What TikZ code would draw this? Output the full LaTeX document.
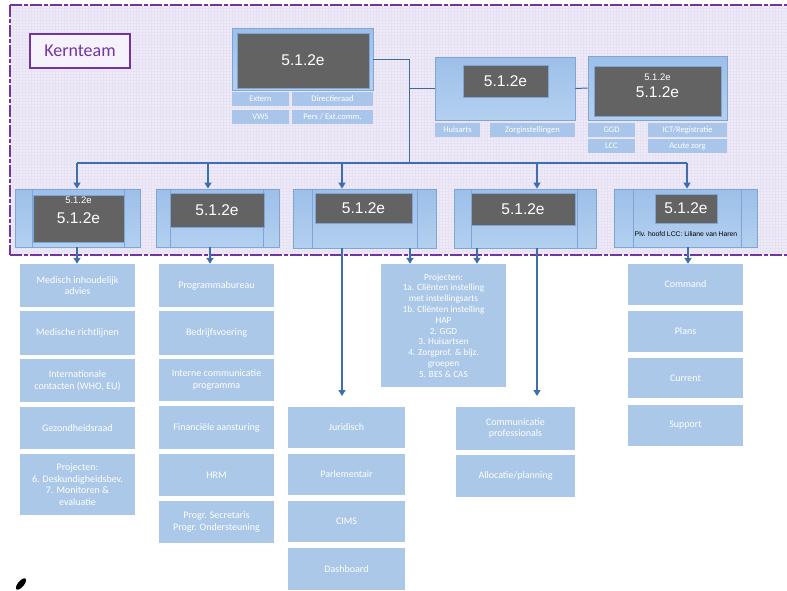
\documentclass[tikz,border=0pt]{standalone}
\usepackage{fontspec}
\setmainfont{Carlito}
\newfontfamily\arialf{Liberation Sans}
\usetikzlibrary{arrows.meta}
\definecolor{lav}{HTML}{EEEAF8}
\definecolor{lavgrid}{HTML}{E6E1F3}
\definecolor{purp}{HTML}{7334A3}
\definecolor{lb}{HTML}{ABC8E8}
\definecolor{lbtop}{HTML}{9DBFE8}
\definecolor{lbbot}{HTML}{B3D0F0}
\definecolor{lbedge}{HTML}{7DA5D6}
\definecolor{gr}{HTML}{636363}
\definecolor{conn}{HTML}{3F6EAE}
\definecolor{tconn}{HTML}{3D6A96}
\definecolor{lbl}{HTML}{A9C6EA}
\tikzset{
  listbox/.style={fill=lb, draw=none, text=white, font=\fontsize{10}{11.5}\selectfont, align=center, inner sep=1pt},
  frame/.style={top color=lbtop, bottom color=lbbot, draw=lbedge, line width=0.8pt, inner sep=0pt},
  graybox/.style={fill=gr, draw=lbedge, line width=0.5pt, text=white, inner sep=0pt, font=\arialf\fontsize{15.5}{17}\selectfont},
  lblbox/.style={fill=lbl, draw=none, text=white, inner sep=0pt, font=\fontsize{8.5}{9}\selectfont, minimum height=14pt},
  bar/.style={draw=lbedge, line width=0.8pt},
  arr/.style={draw=conn, line width=1.4pt, -{Triangle[width=7pt,length=6pt]}},
  tline/.style={draw=tconn, line width=1pt},
  kline/.style={purp, line width=1.8pt, dash pattern=on 12pt off 2pt on 4pt off 2pt},
}
\begin{document}
\begin{tikzpicture}[x=1pt,y=-1pt]
\useasboundingbox (0,0) rectangle (787,590);
\fill[white] (0,0) rectangle (787,590);
% frame
\fill[lav] (10,5) rectangle (787,255);
\begin{scope}
\clip (10,5) rectangle (787,255);
\foreach \i in {0,3,...,771} {\draw[lavgrid,line width=0.3pt] (10+\i,5) -- (10+\i,255);}
\foreach \j in {0,3,...,250} {\draw[lavgrid,line width=0.3pt] (10,5+\j) -- (787,5+\j);}
\end{scope}
\draw[kline] (10,5) -- (787,5);
\draw[kline] (10,5) -- (10,255);
\draw[kline] (10,255) -- (787,255);
% Kernteam
\node[draw=purp, line width=1.2pt, fill=white!40!lav, text=purp, font=\fontsize{18}{20}\selectfont, minimum width=100pt, minimum height=34pt, inner sep=0pt] (kern) at (80,51) {Kernteam};
% top box A
\node[frame, minimum width=141pt, minimum height=62pt] (A) at (302.5,59) {};
\node[graybox, minimum width=132pt, minimum height=55pt] (Ag) at (303,60.5) {5.1.2e};
\node[lblbox, minimum width=57pt] (a1) at (260.5,99) {Extern};
\node[lblbox, minimum width=81pt] (a2) at (332.5,99) {Directieraad};
\node[lblbox, minimum width=57pt] (a3) at (260.5,117) {VWS};
\node[lblbox, minimum width=81pt] (a4) at (332.5,117) {Pers / Ext.comm.};
% top box B
\node[frame, minimum width=140pt, minimum height=63pt] (B) at (505,88.5) {};
\node[graybox, minimum width=85pt, minimum height=32pt] (Bg) at (505.5,81) {5.1.2e};
\node[lblbox, minimum width=45pt] (b1) at (457.5,130) {Huisarts};
\node[lblbox, minimum width=85pt] (b2) at (532.5,130) {Zorginstellingen};
% top box C
\node[frame, minimum width=139pt, minimum height=64pt] (C) at (657.5,88) {};
\node[graybox, minimum width=127pt, minimum height=50pt] (Cg) at (657.5,91) {};
\node[text=white, font=\arialf\fontsize{9.5}{10}\selectfont, inner sep=0pt] (Cs) at (657.5,77) {5.1.2e};
\node[text=white, font=\arialf\fontsize{15.5}{17}\selectfont, inner sep=0pt] (Cb) at (657.5,92) {5.1.2e};
\node[lblbox, minimum width=47pt] (c1) at (611.5,130) {GGD};
\node[lblbox, minimum width=79pt] (c2) at (687.5,130) {ICT/Registratie};
\node[lblbox, minimum width=47pt] (c3) at (611.5,146) {LCC};
\node[lblbox, minimum width=79pt] (c4) at (687.5,146) {Acute zorg};
% top connectors
\coordinate (j) at (409,163);
\draw[tline] (A.east) -| (j);
\draw[tline] (B.west) -- (B.west -| j);
\draw[tline] (B.east) -- (C.west);
% row boxes
\node[frame, minimum width=125pt, minimum height=58pt] (R1) at (77.5,218) {};
\draw[bar] (R1.north -| 32,0) -- (R1.south -| 32,0);
\draw[bar] (R1.north -| 124,0) -- (R1.south -| 124,0);
\node[graybox, minimum width=91pt, minimum height=47pt] (R1g) at (78.5,218.5) {};
\node[text=white, font=\arialf\fontsize{9.5}{10}\selectfont, inner sep=0pt] (R1s) at (78.5,200.5) {5.1.2e};
\node[text=white, font=\arialf\fontsize{15.5}{17}\selectfont, inner sep=0pt] (R1b) at (78.5,218) {5.1.2e};

\node[frame, minimum width=123pt, minimum height=58pt] (R2) at (217.5,218) {};
\draw[bar] (R2.north -| 170,0) -- (R2.south -| 170,0);
\draw[bar] (R2.north -| 263,0) -- (R2.south -| 263,0);
\node[graybox, minimum width=94pt, minimum height=34pt] (R2g) at (217,210) {5.1.2e};

\node[frame, minimum width=143pt, minimum height=59pt] (R3) at (364.5,218.5) {};
\draw[bar] (R3.north -| 312,0) -- (R3.south -| 312,0);
\draw[bar] (R3.north -| 417,0) -- (R3.south -| 417,0);
\node[graybox, minimum width=97pt, minimum height=30pt] (R3g) at (363.5,208) {5.1.2e};

\node[frame, minimum width=142pt, minimum height=59pt] (R4) at (525,218.5) {};
\draw[bar] (R4.north -| 471,0) -- (R4.south -| 471,0);
\draw[bar] (R4.north -| 577,0) -- (R4.south -| 577,0);
\node[graybox, minimum width=104pt, minimum height=32pt] (R4g) at (523,209) {5.1.2e};

\node[frame, minimum width=143pt, minimum height=58pt] (R5) at (685.5,218) {};
\draw[bar] (R5.north -| 633,0) -- (R5.south -| 633,0);
\draw[bar] (R5.north -| 741,0) -- (R5.south -| 741,0);
\node[graybox, minimum width=62pt, minimum height=29pt] (R5g) at (686,208.5) {5.1.2e};
\node[text=black, font=\arialf\fontsize{6.8}{8}\selectfont, inner sep=0pt] (R5t) at (686,234) {Plv. hoofd LCC: Liliane van Haren};
% bus
\draw[tline, draw=conn, line width=1.2pt] (j) -- (77,163);
\draw[tline, draw=conn, line width=1.2pt] (j) -- (687,163);
\draw[arr] (77,163) -- (77,0 |- R1.north);
\draw[arr] (208,163) -- (208,0 |- R2.north);
\draw[arr] (342,163) -- (342,0 |- R3.north);
\draw[arr] (537,163) -- (537,0 |- R4.north);
\draw[arr] (687,163) -- (687,0 |- R5.north);
% lists
\node[listbox, minimum width=115pt, minimum height=43pt] (m1) at (77.5,285.5) {Medisch inhoudelijk\\advies};
\node[listbox, minimum width=115pt, minimum height=44pt] (m2) at (77.5,333) {Medische richtlijnen};
\node[listbox, minimum width=115pt, minimum height=43pt] (m3) at (77.5,380.5) {Internationale\\contacten (WHO, EU)};
\node[listbox, minimum width=115pt, minimum height=42pt] (m4) at (77.5,428) {Gezondheidsraad};
\node[listbox, minimum width=115pt, minimum height=61pt] (m5) at (77.5,484.5) {Projecten:\\6. Deskundigheidsbev.\\7. Monitoren \&\\evaluatie};

\node[listbox, minimum width=115pt, minimum height=43pt] (p1) at (216.5,285.5) {Programmabureau};
\node[listbox, minimum width=115pt, minimum height=44pt] (p2) at (216.5,333) {Bedrijfsvoering};
\node[listbox, minimum width=115pt, minimum height=42pt] (p3) at (216.5,380) {Interne communicatie\\programma};
\node[listbox, minimum width=115pt, minimum height=43pt] (p4) at (216.5,427.5) {Financiële aansturing};
\node[listbox, minimum width=115pt, minimum height=42pt] (p5) at (216.5,475) {HRM};
\node[listbox, minimum width=115pt, minimum height=42pt] (p6) at (216.5,522) {Progr. Secretaris\\Progr. Ondersteuning};

\node[listbox, minimum width=117pt, minimum height=41pt] (q1) at (346.5,427.5) {Juridisch};
\node[listbox, minimum width=117pt, minimum height=41pt] (q2) at (346.5,474.5) {Parlementair};
\node[listbox, minimum width=117pt, minimum height=41pt] (q3) at (346.5,521.5) {CIMS};
\node[listbox, minimum width=117pt, minimum height=42pt] (q4) at (346.5,569) {Dashboard};

\node[listbox, minimum width=125pt, minimum height=123pt, font=\fontsize{9.3}{10.8}\selectfont] (proj) at (443.5,325.5) {Projecten:\\1a. Cliënten instelling\\met instellingsarts\\1b. Cliënten instelling\\HAP\\2. GGD\\3. Huisartsen\\4. Zorgprof. \& bijz.\\groepen\\5. BES \& CAS};

\node[listbox, minimum width=119pt, minimum height=43pt] (k1) at (515.5,428.5) {Communicatie\\professionals};
\node[listbox, minimum width=119pt, minimum height=42pt] (k2) at (515.5,476) {Allocatie/planning};

\node[listbox, minimum width=115pt, minimum height=41pt] (s1) at (685.5,284.5) {Command};
\node[listbox, minimum width=115pt, minimum height=41pt] (s2) at (685.5,331.5) {Plans};
\node[listbox, minimum width=115pt, minimum height=40pt] (s3) at (685.5,378) {Current};
\node[listbox, minimum width=115pt, minimum height=41pt] (s4) at (685.5,425.5) {Support};
% down arrows
\draw[arr] (77,0 |- R1.south) -- (77,0 |- m1.north);
\draw[arr] (210,0 |- R2.south) -- (210,0 |- p1.north);
\coordinate (e3) at (342,396);
\draw[arr] (342,0 |- R3.south) -- (e3);
\draw[arr] (410,0 |- R4.south) -- (410,0 |- proj.north);
\draw[arr] (477,0 |- R4.south) -- (477,0 |- proj.north);
\coordinate (e4) at (537,396);
\draw[arr] (537,0 |- R4.south) -- (e4);
\draw[arr] (688,0 |- R5.south) -- (688,0 |- s1.north);
% scribble
\fill[black, rotate around={50:(21,584)}] (21,584) ellipse (7pt and 3pt);
\end{tikzpicture}
\end{document}
